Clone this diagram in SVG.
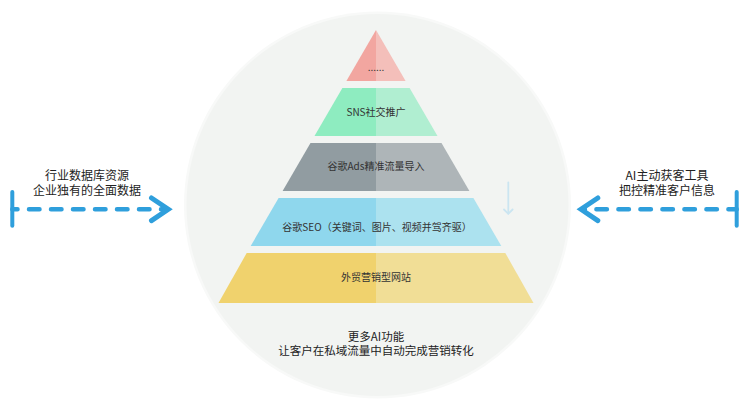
<svg xmlns="http://www.w3.org/2000/svg" width="752" height="400" viewBox="0 0 752 400">
<style>
text{font-family:"Noto Sans CJK SC","Noto Sans",sans-serif;text-anchor:middle;fill:#333}
.t{font-size:10px}
.side{font-size:12px;fill:#222}
.bot{font-size:11.5px;fill:#222}
.dash{fill:none;stroke:#2f9fdc;stroke-width:4.5;stroke-linecap:round;stroke-dasharray:10.5 11.5}
.bar{fill:none;stroke:#2f9fdc;stroke-width:4;stroke-linecap:round}
.chev{fill:none;stroke:#2f9fdc;stroke-width:5;stroke-linecap:round;stroke-linejoin:miter}
.down{fill:none;stroke:#cbe5f1;stroke-width:1.8;stroke-linecap:round}
</style>
<rect width="752" height="400" fill="#ffffff"/>
<g id="circle">
<circle cx="377.5" cy="205" r="193.5" fill="#f8f9f8"/>
<circle cx="377.5" cy="205" r="191" fill="#f2f4f2"/>
</g>
<g id="tier1">
<polygon points="376,30 346.4,81 376,81" fill="#f2a6a0"/>
<polygon points="376,30 376,81 405.6,81" fill="#f4bfba"/>
<text class="t" x="376" y="70.5">......</text>
</g>
<g id="tier2">
<polygon points="342.4,88 376,88 376,136 314.5,136" fill="#8eecc0"/>
<polygon points="376,88 409.6,88 437.5,136 376,136" fill="#b0eed1"/>
<text class="t" x="376" y="116.2">SNS社交推广</text>
</g>
<g id="tier3">
<polygon points="310.5,143 376,143 376,191 282.6,191" fill="#919ca1"/>
<polygon points="376,143 441.5,143 469.4,191 376,191" fill="#aeb5b8"/>
<text class="t" x="376" y="170.2">谷歌Ads精准流量导入</text>
</g>
<g id="tier4">
<polygon points="278.6,198 376,198 376,246 250.7,246" fill="#8fd7ed"/>
<polygon points="376,198 473.4,198 501.3,246 376,246" fill="#ace2ef"/>
<text class="t" x="377" y="230.5">谷歌SEO（关键词、图片、视频并驾齐驱）</text>
</g>
<g id="tier5">
<polygon points="246.7,253 376,253 376,303 218.5,303" fill="#f0d26d"/>
<polygon points="376,253 505.3,253 533.5,303 376,303" fill="#f1de96"/>
<text class="t" x="376" y="281.2">外贸营销型网站</text>
</g>
<g id="bottom-label">
<text class="bot" x="376" y="340.8">更多AI功能</text>
<text class="bot" x="376" y="355.2">让客户在私域流量中自动完成营销转化</text>
</g>
<g id="left-label">
<text class="side" x="87" y="180">行业数据库资源</text>
<text class="side" x="87" y="195">企业独有的全面数据</text>
</g>
<g id="right-label">
<text class="side" x="667" y="180">AI主动获客工具</text>
<text class="side" x="667" y="195">把控精准客户信息</text>
</g>
<g id="connectors">
<line class="bar" x1="12.3" y1="192" x2="12.3" y2="225.7"/>
<line class="dash" x1="12.3" y1="209.3" x2="166" y2="209.3" stroke-dashoffset="5.3"/>
<polyline class="chev" points="151.5,198 168.3,209.3 151.5,220.6"/>
<line class="bar" x1="736.7" y1="192" x2="736.7" y2="225.7"/>
<line class="dash" x1="736.7" y1="209.3" x2="583" y2="209.3" stroke-dashoffset="2.2"/>
<polyline class="chev" points="597.8,198 581,209.3 597.8,220.6"/>
<line class="down" x1="508.3" y1="182.5" x2="508.3" y2="213.5"/>
<polyline class="down" points="504,209.5 508.3,213.8 512.6,209.5"/>
</g>
</svg>
